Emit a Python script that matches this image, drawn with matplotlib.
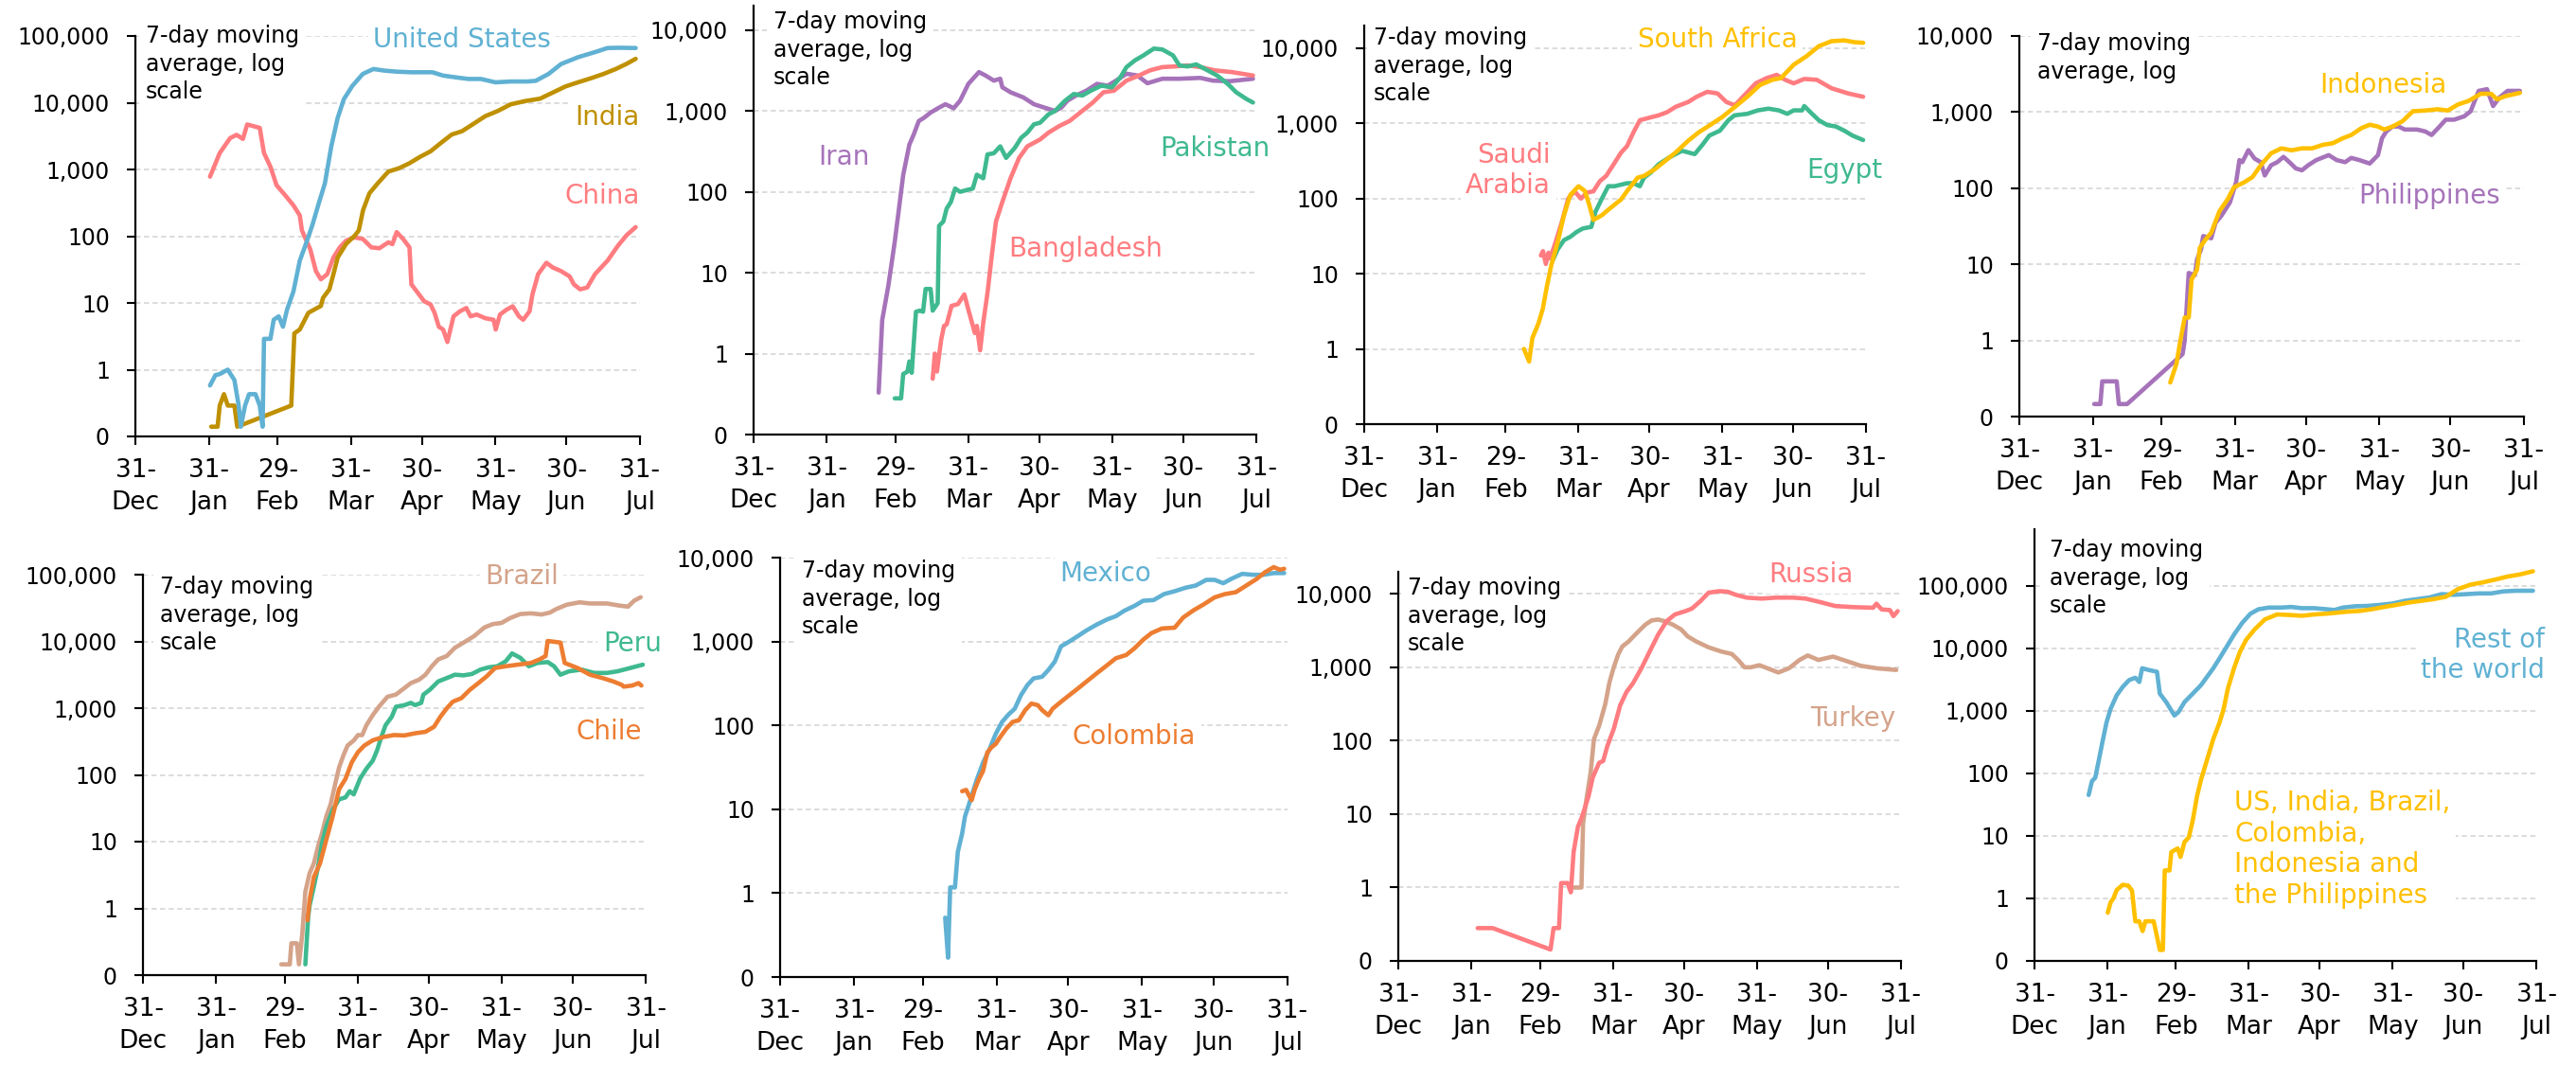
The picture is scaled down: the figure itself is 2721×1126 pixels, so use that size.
import matplotlib
matplotlib.use("Agg")
import matplotlib.pyplot as plt
from matplotlib.ticker import FixedLocator, FixedFormatter, NullLocator

# ---------------- data (x = days since 31-Dec-2019, y = 7-day avg new cases) -------------
MONTH_TICKS = [0, 31, 60, 91, 121, 152, 182, 213]
MONTH_LABELS = ['31-\nDec', '31-\nJan', '29-\nFeb', '31-\nMar', '30-\nApr', '31-\nMay', '30-\nJun', '31-\nJul']
Y_TICKS = [0.1, 1, 10, 100, 1000, 10000, 100000]
Y_LABELS = ['0', '1', '10', '100', '1,000', '10,000', '100,000']
NOTE = "7-day moving\naverage, log\nscale"

CHINA = [(31.5,780),(35.6,1760),(40,2950),(42.7,3300),(45.4,2870),(47.2,4720),(52.5,4200),(54.3,1760),
         (57,1100),(59.6,580),(63.2,412),(66.7,290),(69.4,205),(70.3,122),(73.8,64),(76.2,30),(78.3,22.6),
         (81,27),(83.6,48),(86.3,68),(89,86),(92.5,96),(96,91),(99.6,68),(103,66),(106.8,81),(108.5,76),
         (110.3,115),(113,91),(115.7,68),(116.5,19),(119.2,14.2),(121.9,10.6),(124.6,9.5),(126.3,7.1),
         (128.1,4.4),(129.9,4.0),(131.7,2.6),(134.3,6.3),(137,7.5),(139.7,8.4),(141.5,6.3),(144.1,6.7),
         (147.7,5.9),(151.2,5.6),(152.1,4.0),(153.9,6.7),(156.6,7.9),(159.3,8.9),(161.9,6.3),(163.7,5.6),
         (166.4,7.5),(167.6,13.4),(170,27),(173.5,40),(176.2,34),(179.7,30),(183.3,25),(185.1,19),
         (187.7,16),(190.7,17),(194,27),(199.3,43),(203.7,72),(207.3,103),(211.2,137)]
US = [(31.5,0.58),(33.8,0.83),(35.6,0.86),(39,1.0),(41.8,0.7),(43.6,0.29),(44.5,0.14),(46.3,0.29),(48,0.43),
      (50.7,0.43),(52.5,0.29),(53.7,0.14),(54.3,2.9),(57,2.9),(58.4,5.6),(60.5,6.3),(62.3,4.4),(64,7.9),
      (66.7,14.8),(69.4,43),(72,77),(74.7,146),(77.4,310),(80,620),(82.7,2220),(85.4,5940),(88,11300),
      (91.6,17900),(96,27000),(100.5,32000),(105,30300),(110.3,29200),(116.5,28600),(121,28600),
      (125.4,28600),(129.9,25500),(135.2,24000),(140.6,22700),(145.9,22700),(152,20200),(158.4,20800),
      (165.5,20800),(169,21300),(174.4,27000),(179.7,38000),(186.8,48000),(194,57300),(199.3,66000),
      (204.6,66600),(211.2,66000)]
INDIA = [(32,0.14),(34.7,0.14),(35.6,0.29),(37.4,0.43),(39,0.29),(41.8,0.29),(43,0.14),(65.8,0.29),(67.1,3.5),
         (69.4,4.0),(73,7.1),(75.6,8),(78.3,9),(79.2,11.9),(81.9,16),(83.6,27),(85.4,48),(89,77),(92.5,101),
         (94.3,122),(96.1,245),(98.8,440),(102.3,620),(106.8,930),(111.2,1040),(115.7,1240),(120.1,1540),
         (124.6,1870),(129,2500),(133.5,3330),(137.9,3750),(142.3,4720),(147.7,6290),(153,7530),(158.4,9450),
         (164.6,10600),(170.8,11500),(176.2,14200),(181.5,17500),(186.8,20200),(192.2,23200),(197.5,26900),
         (202.8,32000),(207.3,38200),(211.2,45500)]
IRAN = [(53,0.33),(54.5,2.6),(57.1,6.9),(59.8,24),(61.6,62),(63.4,162),(66,383),(67.9,515),(70,750),(72.3,827),
        (75,955),(78.6,1100),(81.3,1210),(84.8,1080),(87.5,1340),(91,2160),(95.5,3020),(98.2,2750),(101.8,2370),
        (104.5,2500),(105.4,1960),(108.9,1700),(114.3,1470),(118.8,1210),(123.2,1100),(127.7,1000),(130.4,1100),
        (133,1340),(136.6,1550),(141,1780),(145.5,2160),(150,2050),(153.6,2370),(158,2880),(162.5,2750),
        (166.9,2200),(173.2,2500),(180.4,2500),(189.3,2560),(194.6,2370),(201.8,2330),(211.6,2500)]
PAKISTAN = [(59.8,0.28),(62.5,0.28),(63.4,0.56),(65.2,0.6),(66,0.8),(67,0.58),(68.8,3.3),(70.5,3.4),(71.8,3.3),
            (72.9,6.3),(75,6.3),(75.9,3.4),(78,4.2),(78.6,38),(80.4,43),(81.8,62),(83.6,75),(85.4,110),(87.5,100),
            (90.2,105),(92.9,110),(94.6,163),(97.3,147),(99.1,290),(101.8,300),(104.5,365),(107,263),(110.7,350),
            (113.4,466),(116,540),(118.8,683),(121.4,715),(125,910),(127.7,1000),(132,1340),(135.7,1620),
            (139.3,1550),(142.9,1780),(147.3,2050),(151.8,1960),(155.4,2600),(158,3480),(161.6,4220),(165.2,4860),
            (169.6,5900),(173.2,5750),(177.7,4860),(180.4,3650),(183.9,3550),(187.5,3760),(191.1,3320),
            (196.4,2740),(200.9,2160),(204.5,1700),(208.9,1400),(211.6,1270)]
BANGLADESH = [(75.9,0.49),(76.8,1.0),(77.7,0.6),(79.5,1.5),(80.7,2.2),(81.8,2.3),(83.9,3.9),(86.6,4.1),(89.3,5.4),
              (91,3.5),(93.75,1.8),(94.6,2.2),(96,1.1),(97.3,2.4),(99.1,5.6),(100.9,16),(102.7,43),(105.4,75),
              (108.9,148),(112.5,263),(116,365),(121.4,444),(125,540),(129.5,650),(133.9,752),(138.4,955),
              (143.75,1270),(148.2,1700),(152.7,1780),(158,2370),(163.4,2750),(167.9,3170),(173.2,3480),
              (178.6,3550),(183.9,3650),(189.3,3480),(195.5,3170),(202.7,3020),(211.6,2740)]
SOUTH_AFRICA = [(67.8,1.0),(70,0.68),(71.4,1.4),(74,2.2),(75.8,3.4),(77.6,6.9),(79.4,12.9),(82.1,26),(84.8,60),
                (87.5,112),(91,146),(93.7,126),(95.5,83),(97.3,52),(100.9,60),(103.6,71),(106.3,83),(109,97),
                (111.6,126),(116.1,190),(118.8,200),(123.3,245),(127.7,316),(132.2,410),(137.6,590),(142,760),
                (146.5,935),(151.9,1210),(157.3,1650),(162.6,2260),(168,3240),(173.3,3800),(176.9,4000),
                (182.3,6020),(187.7,7800),(193,10640),(198.4,12400),(203.8,12700),(208.2,12000),(211.8,11800)]
SAUDI = [(75,17.5),(75.9,20),(77.1,13.5),(78.2,19),(78.9,16),(81.2,26),(83.9,49),(86.6,100),(89.3,125),(92,100),
         (94.6,120),(97.3,125),(100,170),(102.7,200),(105.4,270),(109,407),(111.6,500),(114.3,760),(117,1100),
         (120.6,1180),(125,1280),(128.6,1410),(132.2,1660),(137.6,1930),(141.1,2260),(145.6,2630),(150,2500),
         (153.7,1930),(157.3,1740),(160.8,2260),(166.2,3410),(170.7,3990),(175.1,4420),(178.7,3800),
         (182.3,3410),(186.8,3900),(192.1,3800),(198.4,2930),(205.5,2500),(211.8,2260)]
EGYPT = [(80,15),(82.1,21),(84.8,28),(87.5,31),(90.2,36),(92.8,40),(96.4,42),(98.2,67),(100.9,100),(103.6,146),
         (106.3,146),(109,153),(111.6,160),(114.3,160),(117,146),(118.8,190),(121.5,220),(125,286),(129.5,352),
         (134.9,432),(140.3,390),(143.8,530),(146.5,688),(151,800),(154.6,1100),(157.2,1280),(162.6,1340),
         (167.1,1490),(171.6,1570),(176,1490),(179.6,1340),(182.3,1490),(185.9,1490),(186.8,1700),(189.4,1410),
         (193,1100),(196.6,950),(200.2,910),(203.8,800),(207.3,688),(211.8,600)]
PHILIPPINES = [(31.6,0.146),(34.2,0.146),(35,0.29),(41.1,0.29),(42,0.146),(45.5,0.146),(68.9,0.66),(69.8,1.0),
               (71.5,7.7),(74.1,7.2),(75,11.5),(76.7,15.7),(77.6,23.5),(81,22),(82.8,35),(85.4,44),(88.9,65),
               (91.5,120),(92.9,234),(94.1,220),(96.7,316),(99.3,245),(101.9,220),(103.6,147),(106.25,200),
               (108.9,220),(111.5,258),(114,220),(116.7,182),(119.3,172),(121.9,200),(125.3,234),(130.6,272),
               (134,234),(137.5,220),(140.1,250),(143.6,234),(147.9,211),(151.4,272),(153.1,454),(154.9,556),
               (157.5,646),(160.1,646),(162.7,590),(167.9,590),(171.4,556),(174,500),(177.4,646),(180,795),
               (183.5,795),(187.8,880),(190.5,1025),(193.9,1900),(197.4,2000),(200,1200),(202.6,1550),
               (206.1,1900),(211.3,1900)]
INDONESIA = [(63.7,0.28),(66.3,0.49),(68,1.0),(69.8,2.0),(71.5,2.0),(72.7,6.3),(75,8.5),(76.2,16.5),(78.5,21),
             (81,26),(84.5,50),(88,72),(90.6,103),(95,120),(98.4,140),(101.9,200),(106.25,287),(110.6,334),
             (114.9,315),(119.3,334),(123.6,334),(128,371),(132.3,390),(136.6,454),(140.1,500),(144.4,616),
             (147.9,682),(151.4,646),(154,590),(157.5,646),(161.8,760),(166.1,1025),(171.4,1050),(176.6,1090),
             (180.9,1050),(185.2,1260),(189.6,1400),(194.8,1740),(199.1,1740),(201.7,1470),(205.2,1620),
             (211.3,1790)]
BRAZIL = [(58.6,0.145),(62.2,0.145),(62.9,0.3),(65.2,0.3),(66.1,0.145),(67.5,0.41),(68.8,1.77),(70.6,3.35),
          (72.4,4.7),(74.2,8.5),(75.9,13.5),(77.7,24),(79.5,36),(81.3,69),(83.1,129),(84.9,195),(86.7,275),
          (89.4,330),(91.1,395),(92.9,395),(94.7,556),(97.4,790),(100,1050),(103.6,1480),(107.2,1600),
          (110.8,2000),(113.5,2370),(117,2670),(119.7,3170),(122.4,4240),(125.1,5370),(128.7,6030),(132.2,8040),
          (135.8,9570),(140.3,12000),(144.7,16200),(148.3,18200),(151.9,18900),(155.5,22300),(159.9,25700),
          (164.4,26300),(168.9,25300),(172.4,27000),(175.1,30500),(179.6,35500),(185,38500),(189.4,37000),
          (196.6,37000),(201.9,34400),(205.5,33200),(208.2,40900),(210.9,45900)]
PERU = [(68.8,0.145),(70,0.74),(70.6,1.1),(72.4,2.1),(74.2,4.2),(75.9,9.5),(77.7,17),(80.4,30),(83.1,43),
        (85.8,46),(87.6,57),(89.3,51),(92,88),(94.7,124),(97.4,164),(99.2,233),(101,370),(102.8,556),(105.4,740),
        (107.2,1050),(110.8,1110),(113.5,1200),(115.3,1110),(117.9,1200),(118.8,1590),(121.5,1880),(125.1,2510),
        (128.7,2820),(132.2,3170),(135.8,3100),(139.4,3250),(143,3780),(146.5,4090),(150.1,4240),(153.7,5030),
        (156.4,6600),(159.9,5670),(163.5,4240),(167.1,4750),(171.5,4900),(174.2,4240),(176.9,3170),
        (180.5,3560),(185.8,3780),(191.2,3370),(196.6,3370),(201,3560),(206.4,3990),(211.8,4480)]
CHILE = [(69.7,0.66),(70.6,1.33),(72.4,2.95),(75,4.7),(77.7,10.7),(80.4,24),(83.1,61),(85.8,87),(88.5,155),
         (91.1,219),(93.8,275),(97.4,330),(101.9,370),(106.3,395),(110.8,390),(115.3,420),(119.7,442),
         (123.3,525),(126,740),(128.7,990),(131.3,1250),(134.9,1410),(138.5,1880),(142.1,2370),(145.6,2990),
         (149.2,4000),(153.7,4240),(159,4490),(164.4,4750),(168,5370),(170.6,6030),(171.5,10150),(176.9,9600),
         (178.7,4750),(184.1,4000),(189.4,3170),(194.8,2820),(199.3,2510),(202.8,2240),(203.7,2100),
         (207.3,2180),(210,2370),(211.2,2180)]
MEXICO = [(69.3,0.51),(70.5,0.17),(71.4,1.17),(73.4,1.17),(74.6,3.1),(76.4,5.1),(77.6,8.2),(79,10.8),(80.8,15.7),
          (82.6,22.7),(85.2,36),(87.9,52),(90.5,79),(93.2,110),(95.8,134),(98.5,158),(101.1,229),(103.8,302),
          (106.4,363),(110,380),(112.6,457),(115.3,575),(117.9,872),(121.4,1000),(125,1160),(128.5,1350),
          (132.9,1590),(137.4,1840),(140.9,2000),(144.4,2320),(148.8,2660),(152.4,3060),(156.8,3120),
          (161.2,3680),(165.6,3970),(170,4360),(174.5,4650),(178.9,5430),(182.4,5430),(186,4950),(189.5,5600),
          (194,6410),(198.3,6240),(202.8,6240),(207.2,6540),(211.6,6540)]
COLOMBIA = [(76.4,16.4),(78.1,17),(79,15.1),(80.4,12.8),(81.7,17.2),(83.4,22.6),(85.2,28.6),(87,47.5),(88.7,54.6),
            (90.5,60),(92.3,72),(94.9,91),(97.6,110),(100.2,115),(102.9,152),(105.5,182),(108.2,174),(110,152),
            (112.6,132),(114.4,158),(117.9,191),(121.4,229),(125,275),(128.5,331),(132.9,417),(137.4,525),
            (140.9,630),(145.3,691),(148.8,831),(152.4,1050),(155.9,1260),(160.3,1430),(165.6,1460),(169.2,1930),
            (173.6,2360),(178,2790),(182.4,3360),(186.8,3680),(191.3,3870),(195.7,4650),(200.1,5580),
            (203.6,6710),(207.2,7700),(209.8,7170),(211.6,7370)]
RUSSIA = [(33.6,0.28),(40,0.28),(64.5,0.143),(65.8,0.28),(68.1,0.28),(69,1.15),(71.7,1.15),(73.1,0.86),(74.3,3.06),
          (76.1,6.7),(77.9,9.3),(80.6,17.5),(82.4,31.6),(85.1,50),(86.8,53),(88.6,85),(91.3,145),(94,302),
          (96.7,462),(99.4,603),(103,968),(106.5,1640),(110.1,2790),(113.7,4250),(117.2,5250),(121.7,5830),
          (124.4,6310),(128,7960),(131.5,10400),(136,10900),(139.6,10700),(143.1,9700),(147.6,8900),
          (153.9,8630),(160.1,8900),(167.3,8900),(172.6,8630),(178,7850),(185.1,6840),(192.3,6620),(201.2,6480),
          (202.6,7360),(204.8,6150),(208.3,6020),(209.8,4980),(211.6,5830)]
TURKEY = [(74.3,1.0),(77.6,1.0),(78.3,7.5),(79.7,15.8),(81.5,37),(82.9,105),(85.1,160),(87.7,316),(89.5,630),
          (91.3,1000),(93.1,1480),(94.9,1920),(97.6,2250),(101.1,2940),(104.7,3820),(107.4,4360),(110.1,4480),
          (112.8,4250),(116.3,3820),(119.9,3270),(122.6,2640),(126.2,2250),(131.5,1870),(136.9,1640),
          (141.3,1520),(144,1260),(146.7,1000),(149.4,1000),(153,1070),(156.5,968),(161,850),(165.5,968),
          (170,1260),(173.5,1450),(178,1260),(184.2,1400),(190.5,1200),(195.9,1050),(203,968),(211,920)]
REST_OF_WORLD = [(23,45),(24.4,75),(25.8,85),(27.1,148),(28.8,310),(30.6,655),(32.3,1070),(34.9,1770),(37.5,2420),
                 (40.2,3100),(42.8,3370),(44.5,2890),(45.7,4780),(48.9,4450),(52,4210),(53.2,1880),(55.9,1380),
                 (59.4,840),(61.1,950),(63.7,1380),(67.2,1880),(70.7,2570),(73.3,3510),(75.9,4780),(78.6,6930),
                 (81.2,10000),(84.7,16500),(88.2,25500),(91.7,35700),(95.1,42000),(99.5,44700),(104.7,44700),
                 (109.1,45700),(113.5,43700),(118.7,43700),(124,42000),(127.4,40900),(130.9,44700),(136.2,46900),
                 (141.4,47500),(146.6,49300),(151.9,51800),(157.1,57200),(162.4,60900),(167.6,64700),(172.8,73300),
                 (178.1,71500),(183.3,73300),(188.5,75200),(193.8,75200),(199,81000),(204.3,83000),(211.6,83000)]
SIX_COUNTRIES = [(31.1,0.59),(32.3,0.86),(33.5,1.0),(34.9,1.36),(37.5,1.65),(39.8,1.6),(41.4,1.33),(42.8,0.43),
                 (44.5,0.43),(45.9,0.3),(47.1,0.43),(50.6,0.43),(51.5,0.3),(53.2,0.15),(54.5,0.15),(55.3,2.8),
                 (57.3,2.8),(58.1,5.5),(60.8,6.3),(62,4.6),(63.7,8),(65.5,9.4),(67.2,17.7),(69,43),(70.7,79),
                 (73.3,167),(75.9,352),(78.6,655),(80.3,1070),(82.1,2270),(84.7,4780),(87.3,8910),(89.9,13700),
                 (93.4,19900),(97.8,28900),(103,34700),(108.2,34000),(113.5,33000),(118.7,34700),(124,35700),
                 (128.3,37000),(132.7,38400),(137.9,39400),(143.2,42000),(148.4,45700),(153.6,49300),
                 (158.9,53800),(164.1,57200),(169.3,60900),(174.6,66400),(179.8,88300),(185.1,104000),
                 (190.3,113000),(195.5,125000),(200.8,140000),(206,151000),(211.6,170000)]

# ---------------- styling ----------------
BLUE, GOLD, PINK = '#60b1d3', '#bf9000', '#ff7c80'
PURPLE, GREEN, YELLOW = '#a673ba', '#3fb98f', '#ffc000'
ORANGE, TAN = '#ed7d31', '#d4a38a'

plt.rcParams['font.family'] = ['DejaVu Sans']
W, H = 2721, 1126
fig = plt.figure(figsize=(W / 100, H / 100), dpi=100)
fig.patch.set_facecolor('white')


def fx(x):
    return x / W


def fy(y):
    return 1 - y / H


def make_ax(x0, x1, ytop, ybot, ymax):
    ax = fig.add_axes([fx(x0), fy(ybot), (x1 - x0) / W, (ybot - ytop) / H])
    ax.set_yscale('log')
    ax.set_xlim(0, 213)
    ax.set_ylim(0.1, ymax)
    ticks = [t for t in Y_TICKS if t <= ymax * 1.001]
    ax.yaxis.set_major_locator(FixedLocator(ticks))
    ax.yaxis.set_major_formatter(FixedFormatter(Y_LABELS[:len(ticks)]))
    ax.yaxis.set_minor_locator(NullLocator())
    ax.set_xticks(MONTH_TICKS)
    ax.set_xticklabels(MONTH_LABELS, linespacing=1.38)
    ax.tick_params(axis='both', direction='out', length=6.5, width=1.5, color='black')
    ax.tick_params(axis='y', labelsize=17, pad=13)
    ax.tick_params(axis='x', labelsize=19, pad=10)
    for s in ('top', 'right'):
        ax.spines[s].set_visible(False)
    for s in ('left', 'bottom'):
        ax.spines[s].set_linewidth(1.6)
    ax.set_axisbelow(True)
    ax.grid(axis='y', which='major', color='#d9d9d9', linestyle=(0, (3, 2)), linewidth=1.3)
    ax.patch.set_alpha(0)
    return ax


def series(ax, data, color):
    xs = [p[0] for p in data]
    ys = [p[1] for p in data]
    ax.plot(xs, ys, color=color, lw=3.3, solid_joinstyle='round', solid_capstyle='round', zorder=2)


def label(ax, x, y, s, color, ha='center', va='center', size=20, ls=1.2):
    ax.text(fx(x), fy(y), s, transform=fig.transFigure, color=color, ha=ha, va=va,
            fontsize=size, linespacing=ls, multialignment=ha if ha != 'center' else 'center',
            bbox=dict(facecolor='white', edgecolor='none', pad=4), zorder=1.5)


def note(ax, x, y, text=NOTE):
    ax.text(fx(x), fy(y), text, transform=fig.transFigure, color='black', ha='left', va='top',
            fontsize=17, linespacing=1.3, bbox=dict(facecolor='white', edgecolor='none', pad=5), zorder=1.5)


# Panel 1
ax = make_ax(143, 676, 38, 461, 100000)
series(ax, CHINA, PINK); series(ax, INDIA, GOLD); series(ax, US, BLUE)
note(ax, 154, 26)
label(ax, 488, 42, 'United States', BLUE)
label(ax, 676, 124, 'India', GOLD, ha='right')
label(ax, 676, 207, 'China', PINK, ha='right')

# Panel 2
ax = make_ax(796, 1327, 6, 459, 20000)
series(ax, IRAN, PURPLE); series(ax, BANGLADESH, PINK); series(ax, PAKISTAN, GREEN)
note(ax, 817, 11)
label(ax, 891, 166, 'Iran', PURPLE)
label(ax, 1342, 157, 'Pakistan', GREEN, ha='right')
label(ax, 1065, 263, 'Bangladesh', PINK, ha='left')

# Panel 3
ax = make_ax(1441, 1971, 27, 448, 20000)
series(ax, SAUDI, PINK); series(ax, EGYPT, GREEN); series(ax, SOUTH_AFRICA, YELLOW)
note(ax, 1451, 28)
label(ax, 1814, 42, 'South Africa', YELLOW)
label(ax, 1638, 180, 'Saudi\nArabia', PINK, ha='right')
label(ax, 1988, 180, 'Egypt', GREEN, ha='right')

# Panel 4
ax = make_ax(2133, 2666, 38, 440, 10000)
series(ax, PHILIPPINES, PURPLE); series(ax, INDONESIA, YELLOW)
note(ax, 2152, 34, "7-day moving\naverage, log")
label(ax, 2517, 90, 'Indonesia', YELLOW)
label(ax, 2566, 207, 'Philippines', PURPLE)

# Panel 5
ax = make_ax(151, 682, 607, 1030, 100000)
series(ax, BRAZIL, TAN); series(ax, PERU, GREEN); series(ax, CHILE, ORANGE)
note(ax, 169, 608)
label(ax, 551, 609, 'Brazil', TAN)
label(ax, 637, 680, 'Peru', GREEN, ha='left')
label(ax, 678, 773, 'Chile', ORANGE, ha='right')

# Panel 6
ax = make_ax(824, 1360, 589, 1032, 10000)
series(ax, MEXICO, BLUE); series(ax, COLOMBIA, ORANGE)
note(ax, 847, 591)
label(ax, 1168, 606, 'Mexico', BLUE)
label(ax, 1198, 778, 'Colombia', ORANGE)

# Panel 7
ax = make_ax(1477, 2008, 604, 1015, 20000)
series(ax, TURKEY, TAN); series(ax, RUSSIA, PINK)
note(ax, 1487, 609)
label(ax, 1913, 607, 'Russia', PINK)
label(ax, 1957, 759, 'Turkey', TAN)

# Panel 8
ax = make_ax(2149, 2679, 559, 1015, 800000)
series(ax, REST_OF_WORLD, BLUE); series(ax, SIX_COUNTRIES, YELLOW)
note(ax, 2165, 569)
label(ax, 2688, 692, 'Rest of\nthe world', BLUE, ha='right')
label(ax, 2360, 897, 'US, India, Brazil,\nColombia,\nIndonesia and\nthe Philippines', YELLOW, ha='left')

fig.savefig('out.png', dpi=100, facecolor='white')
